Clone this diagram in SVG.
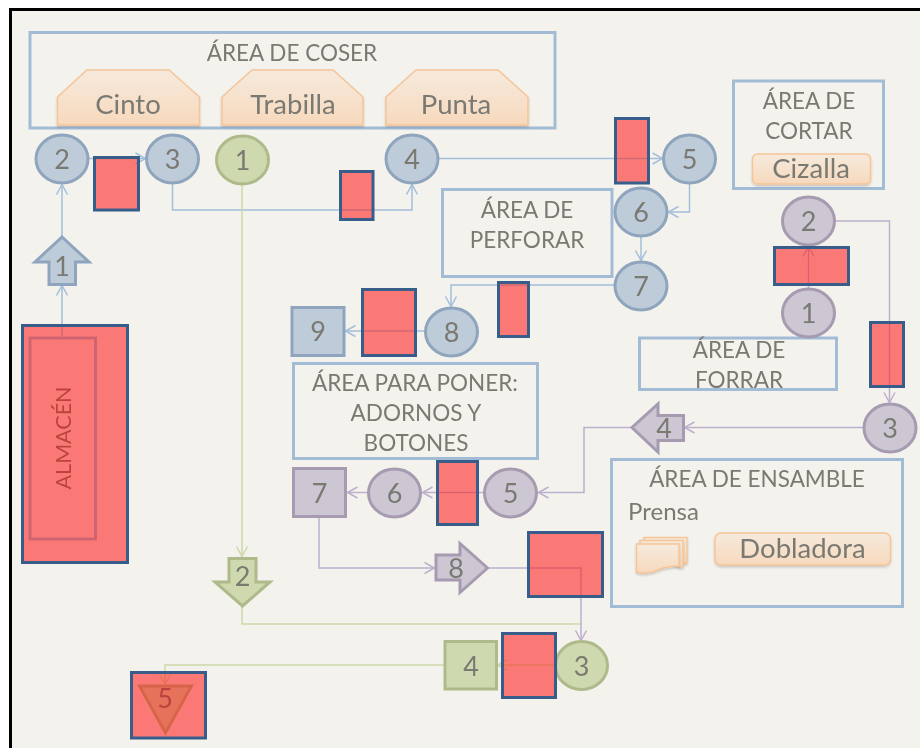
<svg xmlns="http://www.w3.org/2000/svg" width="920" height="748" viewBox="0 0 920 748">
<style>
text{font-family:Lato,Carlito,"Open Sans",sans-serif;fill:#7a7972;text-anchor:middle}
.t{font-size:22.5px}
.m{font-size:27.5px}
.n{font-size:27px}
.area{fill:none;stroke:#a3bcd6;stroke-width:3}
.mach{fill:url(#og);stroke:#f6c597;stroke-width:1.5;filter:url(#sh)}
.b{fill:#becbd9;stroke:#8fa5bd;stroke-width:3}
.p{fill:#cdc7d3;stroke:#a69bb0;stroke-width:3}
.g{fill:#cfd9b0;stroke:#aeba89;stroke-width:3}
.red{fill:#ff0c08;fill-opacity:.5;stroke:#385d8a;stroke-width:3}
.cb,.cp,.cg{fill:none;stroke-width:1.5}
.cb{stroke:#a3bfdb}.cp{stroke:#bdb0cd}.cg{stroke:#cdd9a9}
</style>
<defs>
<linearGradient id="og" x1="0" y1="0" x2="0" y2="1"><stop offset="0" stop-color="#f6eadd"/><stop offset="1" stop-color="#f7d9bd"/></linearGradient>
<filter id="sh" x="-10%" y="-10%" width="120%" height="130%"><feDropShadow dx="0" dy="1.5" stdDeviation="1.2" flood-color="#000" flood-opacity=".2"/></filter>
<filter id="soft" filterUnits="userSpaceOnUse" x="0" y="0" width="920" height="748"><feGaussianBlur stdDeviation=".4"/></filter>
<marker id="ab" markerUnits="userSpaceOnUse" markerWidth="14" markerHeight="14" refX="11" refY="7" orient="auto"><path d="M1 1.500L11 7L1 12.500" fill="none" stroke="#a3bfdb" stroke-width="1.500"/></marker>
<marker id="ap" markerUnits="userSpaceOnUse" markerWidth="14" markerHeight="14" refX="11" refY="7" orient="auto"><path d="M1 1.500L11 7L1 12.500" fill="none" stroke="#bdb0cd" stroke-width="1.500"/></marker>
<marker id="ag" markerUnits="userSpaceOnUse" markerWidth="14" markerHeight="14" refX="11" refY="7" orient="auto"><path d="M1 1.500L11 7L1 12.500" fill="none" stroke="#cdd9a9" stroke-width="1.500"/></marker>
</defs>
<rect width="920" height="748" fill="#fff"/>
<rect x="10.500" y="9.500" width="912" height="742" fill="#f4f2ed" stroke="#000" stroke-width="3"/>
<g filter="url(#soft)">
<g id="connectors">
<path class="cb" marker-end="url(#ab)" d="M62 337V285.500"/>
<path class="cb" marker-end="url(#ab)" d="M62 236V184.500"/>
<path class="cb" marker-end="url(#ab)" d="M89 158.500H145.500"/>
<path class="cb" marker-end="url(#ab)" d="M172.500 184V210H412V184.500"/>
<path class="cb" marker-end="url(#ab)" d="M439 158.500H662.500"/>
<path class="cb" marker-end="url(#ab)" d="M689.500 184V212H668.500"/>
<path class="cb" marker-end="url(#ab)" d="M641 237V260.500"/>
<path class="cb" marker-end="url(#ab)" d="M614 285H451V306.500"/>
<path class="cb" marker-end="url(#ab)" d="M425 331H345.500"/>
<path class="cp" marker-end="url(#ap)" d="M808.500 288V246.500"/>
<path class="cp" marker-end="url(#ap)" d="M835 221H889.500V402.500"/>
<path class="cp" marker-end="url(#ap)" d="M863 427.500H684.500"/>
<path class="cp" marker-end="url(#ap)" d="M631 427.500H584V492.500H538.500"/>
<path class="cp" marker-end="url(#ap)" d="M484 492.500H422.500"/>
<path class="cp" marker-end="url(#ap)" d="M367 492.500H347.500"/>
<path class="cp" marker-end="url(#ap)" d="M319 518V568H434.500"/>
<path class="cg" marker-end="url(#ag)" d="M242 185V556.500"/>
<path class="cg" d="M242 607V624H581"/>
<path class="cp" marker-end="url(#ap)" d="M489 568H581V640.500"/>
<path class="cg" marker-end="url(#ag)" d="M555 665H497.500"/>
<path class="cg" marker-end="url(#ag)" d="M444 665H165V684.500"/>
</g>
<g id="area-coser"><rect class="area" x="30" y="32.500" width="525" height="95.500"/><text class="t" x="292" y="61">ÁREA DE COSER</text></g>
<g id="cinto"><path class="mach" d="M57.500 125V97L87 70H169L199.500 97V125Z"/><text class="m" x="128" y="113.500">Cinto</text></g>
<g id="trabilla"><path class="mach" d="M222 125V97L252 70H333L363 97V125Z"/><text class="m" x="293" y="113.500">Trabilla</text></g>
<g id="punta"><path class="mach" d="M386 125V97L416 70H498L528 97V125Z"/><text class="m" x="456" y="113.500">Punta</text></g>
<g id="area-cortar"><rect class="area" x="733.500" y="81" width="150" height="107.500"/><text class="t" x="809" y="109">ÁREA DE</text><text class="t" x="809" y="139">CORTAR</text></g>
<g id="cizalla"><rect class="mach" x="752.500" y="154" width="118" height="30" rx="5"/><text class="m" x="811" y="177.500">Cizalla</text></g>
<g id="area-perforar"><rect class="area" x="442.500" y="189.500" width="169.500" height="87"/><text class="t" x="527" y="218">ÁREA DE</text><text class="t" x="527" y="248">PERFORAR</text></g>
<g id="area-forrar"><rect class="area" x="639.500" y="338" width="197" height="51.500"/><text class="t" x="739" y="358">ÁREA DE</text><text class="t" x="739" y="388">FORRAR</text></g>
<g id="area-adornos"><rect class="area" x="293.500" y="363.500" width="244" height="95"/><text class="t" x="415" y="391">ÁREA PARA PONER:</text><text class="t" x="416" y="421">ADORNOS Y</text><text class="t" x="416" y="451">BOTONES</text></g>
<g id="area-ensamble"><rect class="area" x="611.500" y="459.500" width="291" height="147"/><text class="t" x="757" y="487">ÁREA DE ENSAMBLE</text><text style="font-size:24px" x="663.500" y="520">Prensa</text></g>
<g id="dobladora"><rect class="mach" x="715" y="533" width="175.500" height="32" rx="6"/><text class="m" x="802.500" y="558">Dobladora</text></g>
<g id="prensa"><path class="mach" d="M644 541V537.500H687V563H683"/><path class="mach" d="M640 545V540.500H683V567H679"/><path class="mach" d="M636.500 544H679V566Q668 566 660 569Q648 575 636.500 572Z"/></g>
<g id="almacen"><rect class="area" x="30" y="338" width="65.500" height="201"/><text style="font-size:21.500px" transform="translate(71 438) rotate(-90)" x="0" y="0">ALMACÉN</text></g>
<g id="blue-1"><path class="b" d="M49 284.500V262H35L62 237L89 262H75.500V284.500Z"/><text class="n" x="62" y="276">1</text></g>
<g id="blue-2"><ellipse class="b" cx="62" cy="159" rx="26" ry="24"/><text class="n" x="62" y="169">2</text></g>
<g id="blue-3"><ellipse class="b" cx="172.500" cy="159" rx="26" ry="24"/><text class="n" x="172.500" y="169">3</text></g>
<g id="blue-4"><ellipse class="b" cx="412" cy="159" rx="26" ry="24"/><text class="n" x="412" y="169">4</text></g>
<g id="blue-5"><ellipse class="b" cx="689.500" cy="159" rx="26" ry="24"/><text class="n" x="689.500" y="169">5</text></g>
<g id="blue-6"><ellipse class="b" cx="641" cy="212" rx="26" ry="24"/><text class="n" x="641" y="222">6</text></g>
<g id="blue-7"><ellipse class="b" cx="641" cy="286" rx="26" ry="24"/><text class="n" x="641" y="296">7</text></g>
<g id="blue-8"><ellipse class="b" cx="451.500" cy="332" rx="26" ry="24"/><text class="n" x="451.500" y="342">8</text></g>
<g id="blue-9"><rect class="b" x="292" y="307.500" width="52" height="48"/><text class="n" x="318" y="341">9</text></g>
<g id="purple-1"><ellipse class="p" cx="808.500" cy="313" rx="26" ry="24"/><text class="n" x="808.500" y="323">1</text></g>
<g id="purple-2"><ellipse class="p" cx="808.500" cy="221" rx="26" ry="24"/><text class="n" x="808.500" y="231">2</text></g>
<g id="purple-3"><ellipse class="p" cx="890" cy="428" rx="26" ry="24"/><text class="n" x="890" y="438">3</text></g>
<g id="purple-4"><path class="p" d="M683.500 415.500V440.500H658V452L632 427.500L658 404V415.500Z"/><text class="n" x="664" y="438">4</text></g>
<g id="purple-5"><ellipse class="p" cx="510.500" cy="493" rx="26" ry="24"/><text class="n" x="510.500" y="503">5</text></g>
<g id="purple-6"><ellipse class="p" cx="394.500" cy="493" rx="26" ry="24"/><text class="n" x="394.500" y="503">6</text></g>
<g id="purple-7"><rect class="p" x="293.500" y="468.500" width="52" height="48"/><text class="n" x="319.500" y="503">7</text></g>
<g id="purple-8"><path class="p" d="M436 555H460V543.500L487.500 568L460 592.500V580H436Z"/><text class="n" x="456" y="578">8</text></g>
<g id="green-1"><ellipse class="g" cx="242.500" cy="160" rx="26" ry="24"/><text class="n" x="242.500" y="170">1</text></g>
<g id="green-2"><path class="g" d="M229 558.500H256V582H270L242.500 606L215 582H229Z"/><text class="n" x="242.500" y="586">2</text></g>
<g id="green-3"><ellipse class="g" cx="581.500" cy="665.500" rx="26" ry="24"/><text class="n" x="581.500" y="676">3</text></g>
<g id="green-4"><rect class="g" x="445" y="641.500" width="51.500" height="47.500"/><text class="n" x="471" y="676">4</text></g>
<g id="green-5"><path class="g" d="M139.500 686H191.500L165.500 733Z"/><text class="n" x="165" y="708">5</text></g>
<g id="overlays">
<rect class="red" x="94.500" y="157.500" width="44" height="52.500"/>
<rect class="red" x="340.500" y="171.500" width="32.500" height="48"/>
<rect class="red" x="362.500" y="289.500" width="53" height="66"/>
<rect class="red" x="22.500" y="325.500" width="105" height="237"/>
<rect class="red" x="615.500" y="118.500" width="33" height="64.500"/>
<rect class="red" x="498.500" y="282.500" width="30" height="54"/>
<rect class="red" x="774.500" y="247.500" width="74" height="37"/>
<rect class="red" x="870.500" y="322.500" width="33" height="64"/>
<rect class="red" x="437.500" y="461.500" width="40" height="63"/>
<rect class="red" x="528.500" y="532.500" width="74" height="64"/>
<rect class="red" x="502.500" y="633.500" width="53" height="64"/>
<rect class="red" x="131.500" y="672.500" width="74" height="65.500"/>
</g>
</g>
</svg>
